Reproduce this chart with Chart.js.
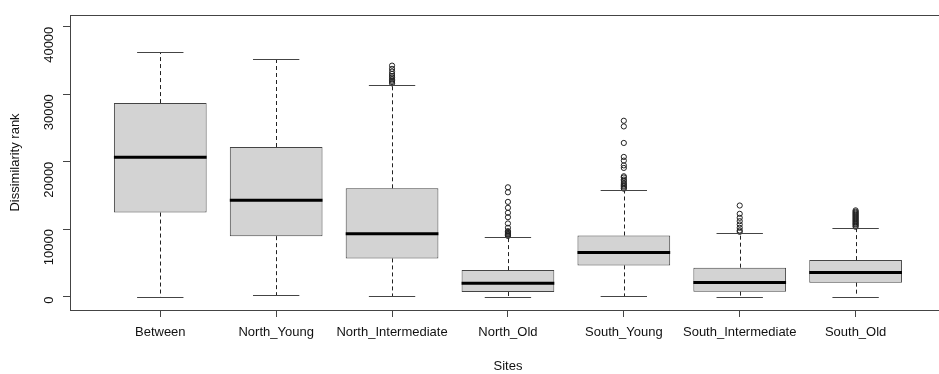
<!DOCTYPE html>
<html>
<head>
<meta charset="utf-8">
<script src="https://cdn.jsdelivr.net/npm/chart.js@4/dist/chart.umd.min.js"></script>
<style>
  html, body { margin: 0; padding: 0; background: #fff; overflow: hidden; }
  #wrap { width: 939px; height: 374px; overflow: hidden; }
  canvas { display: block; }
</style>
</head>
<body>
<div id="wrap"><canvas id="c" width="960" height="374"></canvas></div>
<script>
// Site groups and their box statistics (dissimilarity ranks)
const categories = ["Between", "North_Young", "North_Intermediate", "North_Old",
                    "South_Young", "South_Intermediate", "South_Old"];
const whiskerLow  = [0, 240, 90, 0, 90, 0, 0];
const q1          = [12460, 8960, 5660, 680, 4630, 740, 2070];
const median      = [20640, 14280, 9310, 1970, 6550, 2110, 3590];
const q3          = [28680, 22170, 16050, 3930, 9060, 4290, 5410];
const whiskerHigh = [36220, 35230, 31380, 8810, 15810, 9400, 10140];
const outliers = [
  [],
  [],
  [34230, 33750, 33350, 33000, 32700, 32450, 32200, 32000, 31800, 31600],
  [16200, 15460, 14040, 13160, 12420, 11770, 10840, 10200, 9700, 9600, 9450, 9300, 9210, 9100, 9000],
  [26060, 25220, 22770, 20700, 20150, 19450, 19070, 17830, 17650, 17340, 17150, 16840, 16650,
   16450, 16300, 16110, 16000],
  [13500, 12270, 11680, 11180, 10690, 10200, 9800, 9600],
  [12780, 12600, 12450, 12300, 12150, 12000, 11850, 11700, 11550, 11400, 11250, 11100, 10950,
   10800, 10690, 10500, 10350]
];
const yTicks = [0, 10000, 20000, 30000, 40000];

const boxData = categories.map((_, i) => ({ x: i + 1, y: [q1[i], q3[i]] }));
const outlierData = [];
outliers.forEach((list, i) => list.forEach(v => outlierData.push({ x: i + 1, y: v })));

// Whiskers, staples, medians and the plot frame
const boxExtras = {
  id: 'boxExtras',
  afterDatasetsDraw(chart) {
    const { ctx, scales: { x, y }, chartArea: a } = chart;
    ctx.save();
    categories.forEach((_, i) => {
      const cx = Math.round(x.getPixelForValue(i + 1)) + 0.5;
      const sL = x.getPixelForValue(i + 1 - 0.2);
      const sR = x.getPixelForValue(i + 1 + 0.2);
      const bL = x.getPixelForValue(i + 1 - 0.4);
      const bR = x.getPixelForValue(i + 1 + 0.4);
      // dashed whiskers
      ctx.strokeStyle = '#222';
      ctx.lineWidth = 1;
      ctx.setLineDash([4, 3]);
      ctx.beginPath();
      ctx.moveTo(cx, y.getPixelForValue(q3[i]));
      ctx.lineTo(cx, y.getPixelForValue(whiskerHigh[i]));
      ctx.moveTo(cx, y.getPixelForValue(q1[i]));
      ctx.lineTo(cx, y.getPixelForValue(whiskerLow[i]));
      ctx.stroke();
      ctx.setLineDash([]);
      // staples
      ctx.strokeStyle = '#444';
      ctx.beginPath();
      const yh = Math.round(y.getPixelForValue(whiskerHigh[i])) + 0.5;
      const yl = Math.round(y.getPixelForValue(whiskerLow[i])) + 0.5;
      ctx.moveTo(sL, yh); ctx.lineTo(sR, yh);
      ctx.moveTo(sL, yl); ctx.lineTo(sR, yl);
      ctx.stroke();
      // median
      ctx.strokeStyle = '#000';
      ctx.lineWidth = 3;
      ctx.beginPath();
      const ym = y.getPixelForValue(median[i]);
      ctx.moveTo(bL, ym); ctx.lineTo(bR, ym);
      ctx.stroke();
    });
    // frame
    ctx.strokeStyle = '#444';
    ctx.lineWidth = 1;
    ctx.strokeRect(Math.round(a.left) + 0.5, Math.round(a.top) + 0.5,
                   Math.round(a.right - a.left), Math.round(a.bottom - a.top));
    ctx.restore();
  }
};

const font = { family: "'Liberation Sans', Arial, sans-serif", size: 13 };

new Chart(document.getElementById('c'), {
  type: 'bar',
  data: {
    datasets: [
      {
        type: 'bar',
        data: boxData,
        backgroundColor: '#d3d3d3',
        borderColor: '#444',
        borderWidth: 1,
        borderSkipped: false,
        barPercentage: 1,
        categoryPercentage: 0.8,
        order: 2
      },
      {
        type: 'scatter',
        data: outlierData,
        pointStyle: 'circle',
        pointRadius: 2.6,
        pointBackgroundColor: 'rgba(0,0,0,0)',
        pointBorderColor: '#222',
        pointBorderWidth: 1,
        order: 1
      }
    ]
  },
  options: {
    responsive: false,
    animation: false,
    devicePixelRatio: 1,
    layout: { padding: { top: 15, right: 14, left: 0, bottom: 0 } },
    plugins: { legend: { display: false }, tooltip: { enabled: false } },
    scales: {
      x: {
        type: 'linear',
        offset: false,
        min: 0.221,
        max: 7.78,
        afterBuildTicks(scale) { scale.ticks = categories.map((_, i) => ({ value: i + 1 })); },
        afterFit(scale) { scale.height = 64; scale.paddingLeft = 0; scale.paddingRight = 0; },
        ticks: {
          autoSkip: false, maxRotation: 0, minRotation: 0, padding: 8,
          color: '#111', font,
          callback: v => categories[v - 1]
        },
        grid: { offset: false, drawOnChartArea: false, drawTicks: true, tickLength: 7, tickColor: '#444' },
        border: { display: false },
        title: { display: true, text: 'Sites', color: '#111', font, padding: { top: 0, bottom: 0 } }
      },
      y: {
        min: -1981,
        max: 41730,
        afterBuildTicks(scale) { scale.ticks = yTicks.map(v => ({ value: v })); },
        afterFit(scale) { scale.width = 70; scale.paddingTop = 0; scale.paddingBottom = 0; },
        ticks: {
          minRotation: 90, maxRotation: 90, padding: 14,
          color: '#111', font,
          callback: v => String(v)
        },
        grid: { drawOnChartArea: false, drawTicks: true, tickLength: 7, tickColor: '#444' },
        border: { display: false },
        title: { display: true, text: 'Dissimilarity rank', color: '#111', font, padding: { top: 8, bottom: 0 } }
      }
    }
  },
  plugins: [boxExtras]
});
</script>
</body>
</html>
